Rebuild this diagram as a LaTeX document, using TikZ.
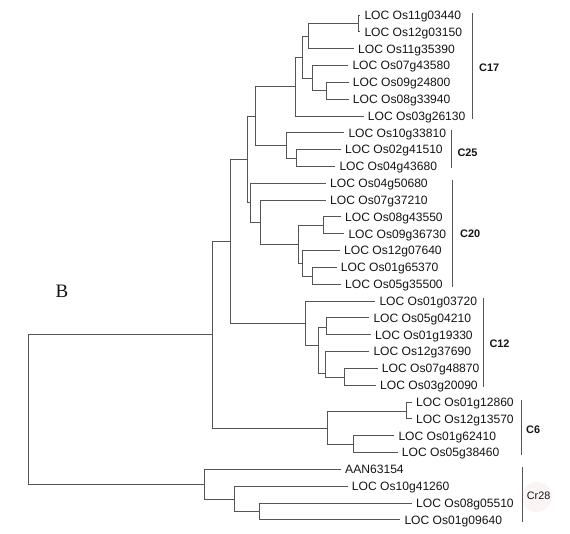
\documentclass[tikz,border=0pt]{standalone}
\usepackage{fontspec}
\setmainfont{Liberation Sans}
\newfontfamily\serifB{Liberation Serif}
\definecolor{linec}{RGB}{85,85,85}
\definecolor{txtc}{RGB}{20,20,20}
\definecolor{blush}{RGB}{250,244,244}
\tikzset{
  br/.style={draw=linec, line width=0.95pt},
  leaf/.style={anchor=west, inner xsep=4pt, inner ysep=0pt, text height=8.7pt, text depth=0pt,
    font=\fontsize{12.1}{14}\selectfont, text=txtc},
  clade/.style={anchor=west, inner sep=0pt, font=\fontsize{10.9}{12}\selectfont\bfseries, text=txtc},
  cladeR/.style={anchor=west, inner sep=0pt, font=\fontsize{10.8}{12}\selectfont, text=txtc},
  bracket/.style={draw=linec, line width=0.95pt}
}
\begin{document}
\begin{tikzpicture}[x=1pt,y=-1pt]
\useasboundingbox (0,0) rectangle (570,533);
\fill[blush] (537,497) circle (15);
% leaves (node x = text start - 4)
\node[leaf] (L1)  at (360.3,15)     {LOC Os11g03440};
\node[leaf] (L2)  at (360.3,31.83)  {LOC Os12g03150};
\node[leaf] (L3)  at (354,48.66)    {LOC Os11g35390};
\node[leaf] (L4)  at (348.3,65.49)  {LOC Os07g43580};
\node[leaf] (L5)  at (348.7,82.32)  {LOC Os09g24800};
\node[leaf] (L6)  at (348.7,99.15)  {LOC Os08g33940};
\node[leaf] (L7)  at (363.7,115.98) {LOC Os03g26130};
\node[leaf] (L8)  at (344.3,132.81) {LOC Os10g33810};
\node[leaf] (L9)  at (341,149.64)   {LOC Os02g41510};
\node[leaf] (L10) at (335.3,166.47) {LOC Os04g43680};
\node[leaf] (L11) at (326,183.3)    {LOC Os04g50680};
\node[leaf] (L12) at (326,200.13)   {LOC Os07g37210};
\node[leaf] (L13) at (341,216.96)   {LOC Os08g43550};
\node[leaf] (L14) at (344.3,233.79) {LOC Os09g36730};
\node[leaf] (L15) at (340,250.62)   {LOC Os12g07640};
\node[leaf] (L16) at (336.7,267.45) {LOC Os01g65370};
\node[leaf] (L17) at (341,284.28)   {LOC Os05g35500};
\node[leaf] (L18) at (375.3,301.11) {LOC Os01g03720};
\node[leaf] (L19) at (369.3,317.94) {LOC Os05g04210};
\node[leaf] (L20) at (371,334.77)   {LOC Os01g19330};
\node[leaf] (L21) at (369.3,351.6)  {LOC Os12g37690};
\node[leaf] (L22) at (377.7,368.43) {LOC Os07g48870};
\node[leaf] (L23) at (376,385.26)   {LOC Os03g20090};
\node[leaf] (L24) at (412,402.09)   {LOC Os01g12860};
\node[leaf] (L25) at (412,418.92)   {LOC Os12g13570};
\node[leaf] (L26) at (394.3,435.75) {LOC Os01g62410};
\node[leaf] (L27) at (397.7,452.58) {LOC Os05g38460};
\node[leaf] (L28) at (341,469.41)   {AAN63154};
\node[leaf] (L29) at (347.7,486.24) {LOC Os10g41260};
\node[leaf] (L30) at (412,503.07)   {LOC Os08g05510};
\node[leaf] (L31) at (400.3,519.9)  {LOC Os01g09640};
% internal nodes
\coordinate (a12)   at (358.3,23.4);
\coordinate (a123)  at (308.3,36);
\coordinate (a56)   at (326.3,90.7);
\coordinate (a456)  at (312.7,78);
\coordinate (a16)   at (302,57);
\coordinate (a17)   at (295,86.5);
\coordinate (a910)  at (296.7,158);
\coordinate (a25)   at (286,145.4);
\coordinate (a1725) at (255,116);
\coordinate (a1314) at (323.8,225.4);
\coordinate (a1617) at (312.7,276);
\coordinate (a1517) at (302.7,263.4);
\coordinate (a1317) at (298.3,244.4);
\coordinate (a1217) at (260,222.2);
\coordinate (a20)   at (250.7,202.7);
\coordinate (a1720) at (247.3,159.4);
\coordinate (a1920) at (326.7,327.3);
\coordinate (a2223) at (344.3,377);
\coordinate (a2123) at (325,373.3);
\coordinate (a1923) at (318.3,345);
\coordinate (a12c)  at (305,323.3);
\coordinate (aup)   at (230,241.4);
\coordinate (atop)  at (212.7,334.4);
\coordinate (a2425) at (406.7,411.7);
\coordinate (a2627) at (353.3,444.3);
\coordinate (a6)    at (327.7,428);
\coordinate (a3031) at (259,511.7);
\coordinate (a2931) at (234,499.3);
\coordinate (a28)   at (204.3,484.4);
\coordinate (root)  at (28.3,409.4);
% branches
\draw[br] (a12) |- (L1.west) (a12) |- (L2.west);
\draw[br] (a123) |- (a12) (a123) |- (L3.west);
\draw[br] (a56) |- (L5.west) (a56) |- (L6.west);
\draw[br] (a456) |- (L4.west) (a456) |- (a56);
\draw[br] (a16) |- (a123) (a16) |- (a456);
\draw[br] (a17) |- (a16) (a17) |- (L7.west);
\draw[br] (a910) |- (L9.west) (a910) |- (L10.west);
\draw[br] (a25) |- (L8.west) (a25) |- (a910);
\draw[br] (a1725) |- (a17) (a1725) |- (a25);
\draw[br] (a1314) |- (L13.west) (a1314) |- (L14.west);
\draw[br] (a1617) |- (L16.west) (a1617) |- (L17.west);
\draw[br] (a1517) |- (L15.west) (a1517) |- (a1617);
\draw[br] (a1317) |- (a1314) (a1317) |- (a1517);
\draw[br] (a1217) |- (L12.west) (a1217) |- (a1317);
\draw[br] (a20) |- (L11.west) (a20) |- (a1217);
\draw[br] (a1720) |- (a1725) (a1720) |- (a20);
\draw[br] (a1920) |- (L19.west) (a1920) |- (L20.west);
\draw[br] (a2223) |- (L22.west) (a2223) |- (L23.west);
\draw[br] (a2123) |- (L21.west) (a2123) |- (a2223);
\draw[br] (a1923) |- (a1920) (a1923) |- (a2123);
\draw[br] (a12c) |- (L18.west) (a12c) |- (a1923);
\draw[br] (aup) |- (a1720) (aup) |- (a12c);
\draw[br] (atop) |- (aup) (atop) |- (a6);
\draw[br] (a2425) |- (L24.west) (a2425) |- (L25.west);
\draw[br] (a2627) |- (L26.west) (a2627) |- (L27.west);
\draw[br] (a6) |- (a2425) (a6) |- (a2627);
\draw[br] (a3031) |- (L30.west) (a3031) |- (L31.west);
\draw[br] (a2931) |- (L29.west) (a2931) |- (a3031);
\draw[br] (a28) |- (L28.west) (a28) |- (a2931);
\draw[br] (root) |- (atop) (root) |- (a28);
% clade brackets
\coordinate (b17t) at (472.3,13.3);  \coordinate (b17b) at (472.3,119);
\coordinate (b25t) at (451.7,130);   \coordinate (b25b) at (451.7,168.3);
\coordinate (b20t) at (452.7,180);   \coordinate (b20b) at (452.7,286.7);
\coordinate (b12t) at (483.3,298.3); \coordinate (b12b) at (483.3,386.7);
\coordinate (b6t)  at (521,400);     \coordinate (b6b)  at (521,455);
\coordinate (b28t) at (522.7,466.7); \coordinate (b28b) at (522.7,521.7);
\draw[bracket] (b17t) -- (b17b);
\draw[bracket] (b25t) -- (b25b);
\draw[bracket] (b20t) -- (b20b);
\draw[bracket] (b12t) -- (b12b);
\draw[bracket] (b6t) -- (b6b);
\draw[bracket] (b28t) -- (b28b);
\node[clade] (C17) at (479,67.3) {C17};
\node[clade] (C25) at (457.3,152.7) {C25};
\node[clade] (C20) at (460,233.3) {C20};
\node[clade] (C12) at (489.3,343.3) {C12};
\node[clade] (C6) at (526,430) {C6};
\node[cladeR] (Cr28) at (526.7,495.7) {Cr28};
\node[font=\serifB\fontsize{19}{22}\selectfont, text=txtc, inner sep=0pt] (B) at (62,291.5) {B};
\end{tikzpicture}
\end{document}
